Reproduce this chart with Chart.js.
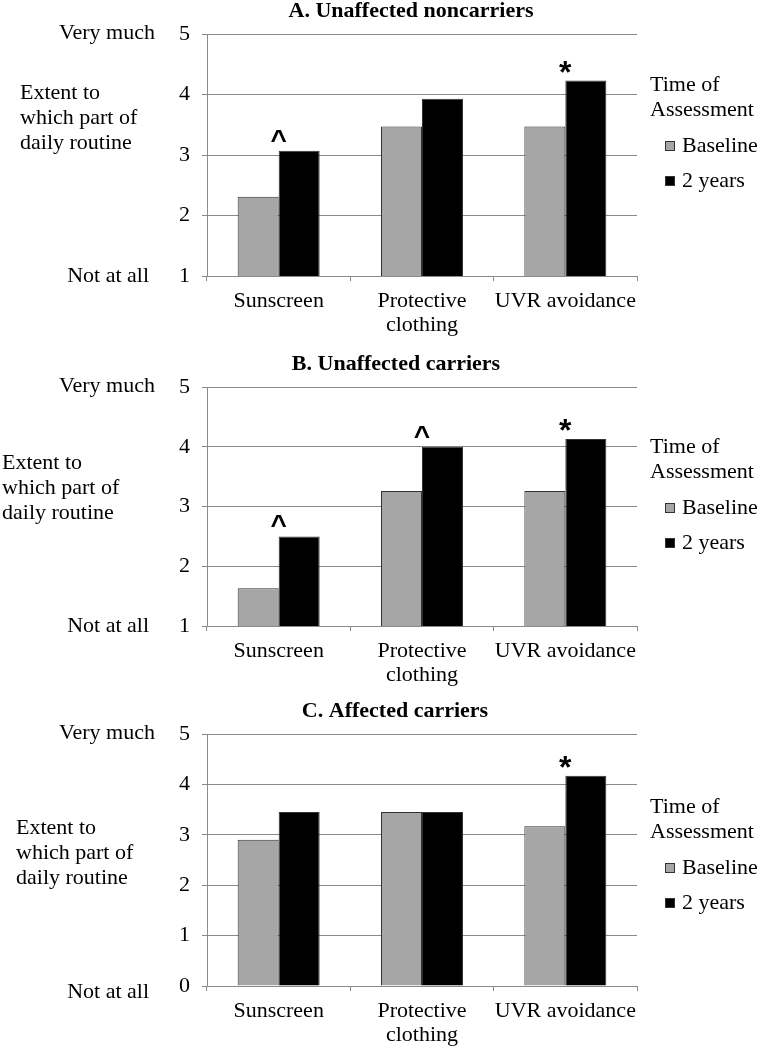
<!DOCTYPE html>
<html>
<head>
<meta charset="utf-8">
<script src="https://cdn.jsdelivr.net/npm/chart.js@4.4.1/dist/chart.umd.min.js"></script>
<style>
  html, body { margin: 0; padding: 0; background: #fff; }
  #wrap { position: relative; width: 758px; height: 1050px; }
  canvas { position: absolute; left: 0; }
</style>
</head>
<body>
<div id="wrap">
  <canvas id="chartA" width="758" height="340" style="top:0px"></canvas>
  <canvas id="chartB" width="758" height="360" style="top:340px"></canvas>
  <canvas id="chartC" width="758" height="350" style="top:700px"></canvas>
</div>
<script>
// categories and series
const categories = ['Sunscreen', ['Protective', 'clothing'], 'UVR avoidance'];
const seriesNames = ['Baseline', '2 years'];
const legendTitle = ['Time of', 'Assessment'];
const yTopLabel = 'Very much';
const yBottomLabel = 'Not at all';
const yTitleLines = ['Extent to', 'which part of', 'daily routine'];

// A. Unaffected noncarriers
const baselineA = [2.31, 3.47, 3.47];
const twoYearsA = [3.07, 3.93, 4.23];
const marksA = ['^', '', '*'];

// B. Unaffected carriers
const baselineB = [1.63, 3.26, 3.26];
const twoYearsB = [2.50, 4.00, 4.13];
const marksB = ['^', '^', '*'];

// C. Affected carriers
const baselineC = [2.90, 3.45, 3.17];
const twoYearsC = [3.45, 3.45, 4.17];
const marksC = ['', '', '*'];

const SERIF = "'Liberation Serif', 'Times New Roman', serif";
const SANS = "'Liberation Sans', Arial, sans-serif";
const FS = 22;
const GRID = '#8a8a8a';
const GREY_BAR = '#a6a6a6';
const BLACK_BAR = '#000000';

const extrasPlugin = {
  id: 'extras',
  afterDraw(chart) {
    const o = chart.options.plugins.extras;
    const { ctx, chartArea } = chart;
    const y = chart.scales.y;
    const x = chart.scales.x;
    ctx.save();
    ctx.fillStyle = '#000';

    // panel title
    ctx.font = `bold ${FS}px ${SERIF}`;
    ctx.textAlign = 'center';
    ctx.textBaseline = 'middle';
    ctx.fillText(o.title, o.titleX, chartArea.top - 23);

    // y axis wording
    ctx.font = `${FS}px ${SERIF}`;
    ctx.textAlign = 'right';
    ctx.fillText(yTopLabel, 155, y.getPixelForValue(y.max) - 1);
    ctx.fillText(yBottomLabel, 149, y.getPixelForValue(y.min) + o.bottomShift);
    ctx.textAlign = 'left';
    yTitleLines.forEach((t, i) => ctx.fillText(t, o.yTitleX, o.yTitleTop + i * 25));

    // significance marks
    ctx.textAlign = 'center';
    ctx.textBaseline = 'alphabetic';
    o.marks.forEach((m, i) => {
      if (!m) return;
      const px = x.getPixelForValue(i);
      const py = y.getPixelForValue(o.topValues[i]);
      if (m === '*') {
        ctx.font = `bold 32px ${SANS}`;
        ctx.fillText(m, px, py + 2);
      } else {
        ctx.font = `bold 28px ${SANS}`;
        ctx.fillText(m, px, py - 2);
      }
    });

    // legend
    ctx.font = `${FS}px ${SERIF}`;
    ctx.textAlign = 'left';
    ctx.textBaseline = 'middle';
    const lx = chartArea.right + 13;
    ctx.fillText(legendTitle[0], lx, o.legendTop);
    ctx.fillText(legendTitle[1], lx, o.legendTop + 25);
    chart.data.datasets.forEach((ds, i) => {
      const iy = o.legendTop + 61 + i * 35;
      ctx.fillStyle = ds.backgroundColor;
      ctx.fillRect(lx + 15, iy - 5, 10, 10);
      ctx.strokeStyle = '#333';
      ctx.lineWidth = 1;
      ctx.strokeRect(lx + 15.5, iy - 4.5, 9, 9);
      ctx.fillStyle = '#000';
      ctx.fillText(ds.label, lx + 32, iy);
    });
    ctx.restore();
  }
};

const makeChart = (id, baseline, twoYears, marks, yMin, extra) => {
  const ctx = document.getElementById(id).getContext('2d');
  return new Chart(ctx, {
    type: 'bar',
    data: {
      labels: categories,
      datasets: [
        {
          label: seriesNames[0],
          data: baseline,
          backgroundColor: GREY_BAR,
          borderColor: '#333',
          borderWidth: 1
        },
        {
          label: seriesNames[1],
          data: twoYears,
          backgroundColor: BLACK_BAR,
          borderColor: '#333',
          borderWidth: 1
        }
      ]
    },
    options: {
      responsive: false,
      animation: false,
      devicePixelRatio: 1,
      categoryPercentage: 0.572,
      barPercentage: 1.0,
      layout: {
        autoPadding: false,
        padding: { left: 160, right: 121, top: extra.padTop, bottom: extra.padBottom }
      },
      plugins: {
        legend: { display: false },
        tooltip: { enabled: false },
        extras: Object.assign({ marks: marks, topValues: twoYears }, extra)
      },
      scales: {
        x: {
          type: 'category',
          offset: true,
          grid: { offset: true, drawOnChartArea: false, drawTicks: true, tickLength: 5, color: GRID },
          border: { color: GRID },
          ticks: {
            color: '#000',
            font: { family: SERIF, size: FS, lineHeight: 1.1 },
            padding: 8,
            maxRotation: 0,
            autoSkip: false
          },
          afterFit: (s) => { s.height = 60; s.paddingLeft = 0; s.paddingRight = 0; }
        },
        y: {
          min: yMin,
          max: 5,
          grid: { color: GRID, tickLength: 5, drawTicks: true },
          border: { color: GRID },
          ticks: {
            stepSize: 1,
            color: '#000',
            font: { family: SERIF, size: FS },
            padding: 12
          },
          afterFit: (s) => { s.width = 47; s.paddingTop = 0; s.paddingBottom = 0; }
        }
      }
    },
    plugins: [extrasPlugin]
  });
};

makeChart('chartA', baselineA, twoYearsA, marksA, 1, {
  title: 'A. Unaffected noncarriers', titleX: 411,
  padTop: 34, padBottom: 4,
  yTitleX: 20, yTitleTop: 93, bottomShift: 0,
  legendTop: 85
});
makeChart('chartB', baselineB, twoYearsB, marksB, 1, {
  title: 'B. Unaffected carriers', titleX: 396,
  padTop: 47, padBottom: 14,
  yTitleX: 2, yTitleTop: 123, bottomShift: 0,
  legendTop: 107
});
makeChart('chartC', baselineC, twoYearsC, marksC, 0, {
  title: 'C. Affected carriers', titleX: 395,
  padTop: 34, padBottom: 4,
  yTitleX: 16, yTitleTop: 128, bottomShift: 6,
  legendTop: 107
});
</script>
</body>
</html>
